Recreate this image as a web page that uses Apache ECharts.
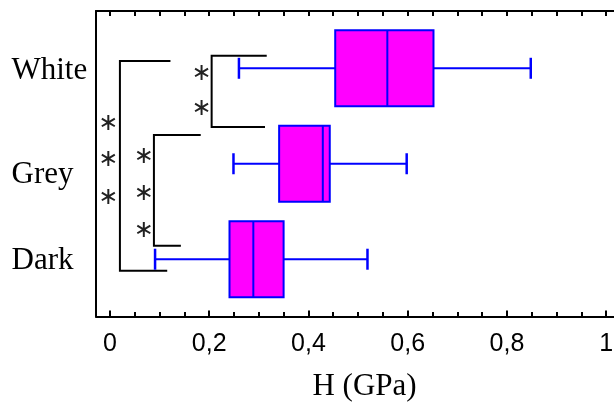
<!DOCTYPE html>
<html>
<head>
<meta charset="utf-8">
<script src="https://cdn.jsdelivr.net/npm/echarts@6/dist/echarts.min.js"></script>
<style>html,body{margin:0;padding:0;background:#fff}#c{width:614px;height:406px}</style>
</head>
<body>
<div id="c"></div>
<script>
// ---- data ----
const categories = ['Dark', 'Grey', 'White'];
const whiskerLow  = [0.091, 0.249, 0.260];
const q1          = [0.241, 0.341, 0.454];
const median      = [0.289, 0.429, 0.559];
const q3          = [0.350, 0.443, 0.652];
const whiskerHigh = [0.519, 0.598, 0.848];

const xLabelTicks = [0, 0.2, 0.4, 0.6, 0.8, 1];
const xMinorTicks = [0.05, 0.1, 0.15, 0.25, 0.3, 0.35, 0.45, 0.5, 0.55, 0.65, 0.7, 0.75, 0.85, 0.9, 0.95];
const xAllTicks = [0, 0.05, 0.1, 0.15, 0.2, 0.25, 0.3, 0.35, 0.4, 0.45, 0.5, 0.55, 0.6, 0.65, 0.7, 0.75, 0.8, 0.85, 0.9, 0.95, 1];

// significance brackets (data units): stem x, top y, bottom y, top arm end x, bottom arm end x
const bracketStemX   = [0.0202, 0.0887, 0.205];
const bracketTopY    = [3.076, 2.301, 3.131];
const bracketBottomY = [0.880, 1.141, 2.385];
const bracketTopEnd  = [0.122, 0.183, 0.316];
const bracketBotEnd  = [0.1155, 0.143, 0.3125];
// asterisks marking significance
const starX = [-0.0034, -0.0034, -0.0034, 0.0685, 0.0685, 0.0685, 0.1849, 0.1849];
const starY = [2.416, 2.039, 1.648, 2.074, 1.690, 1.299, 2.947, 2.581];

const xTitle = 'H (GPa)';

// ---- chart ----
const BOX_H = 0.795, CAP_H = 0.22;
const boxData = categories.map((c, i) => [i + 1, whiskerLow[i], q1[i], median[i], q3[i], whiskerHigh[i]]);
const bracketData = bracketStemX.map((x, i) => [x, bracketTopY[i], bracketBottomY[i], bracketTopEnd[i], bracketBotEnd[i]]);
const starData = starX.map((x, i) => [x, starY[i]]);

const chart = echarts.init(document.getElementById('c'), null, {renderer: 'canvas'});
const fmt = v => String(+v.toFixed(2)).replace('.', ',');
const xRange = {min: -0.028, max: 1.054};
const serif = '"Liberation Serif", "Times New Roman", serif';
// small vertical nudges of the category labels, as in the reference
const labelStyleKeys = ['d', 'g', 'w'];

chart.setOption({
  animation: false,
  backgroundColor: '#fff',
  grid: {left: 96, top: 11, right: -19, bottom: 89.5, containLabel: false, outerBoundsMode: 'none'},
  xAxis: [
    {
      type: 'value', position: 'bottom', ...xRange,
      axisLine: {show: true, onZero: false, lineStyle: {color: '#000', width: 2}},
      axisTick: {show: true, inside: true, length: 6, lineStyle: {color: '#000', width: 2}, customValues: xLabelTicks},
      axisLabel: {show: true, customValues: xLabelTicks, formatter: fmt, margin: 15,
        color: '#000', fontSize: 25, fontFamily: '"Liberation Sans", Arial, sans-serif'},
      splitLine: {show: false},
      name: xTitle, nameLocation: 'middle', nameGap: 55,
      nameTextStyle: {color: '#000', fontSize: 31, fontFamily: serif}
    },
    {
      type: 'value', position: 'bottom', ...xRange,
      axisLine: {show: false, onZero: false},
      axisTick: {show: true, inside: true, length: 4.5, lineStyle: {color: '#000', width: 2}, customValues: xMinorTicks},
      axisLabel: {show: false}, splitLine: {show: false}
    },
    {
      type: 'value', position: 'top', ...xRange,
      axisLine: {show: true, onZero: false, lineStyle: {color: '#000', width: 2}},
      axisTick: {show: true, inside: true, length: 5, lineStyle: {color: '#000', width: 2}, customValues: xAllTicks},
      axisLabel: {show: false}, splitLine: {show: false}
    }
  ],
  yAxis: {
    type: 'value', min: 0.4, max: 3.6, interval: 0.2, position: 'left',
    axisLine: {show: true, onZero: false, lineStyle: {color: '#000', width: 2}},
    axisTick: {show: false}, splitLine: {show: false},
    axisLabel: {
      show: true, align: 'left', margin: 84.5, color: '#000', fontSize: 31, fontFamily: serif,
      formatter: v => {
        const r = Math.round(v);
        return (Math.abs(v - r) < 1e-6 && categories[r - 1]) ? '{' + labelStyleKeys[r - 1] + '|' + categories[r - 1] + '}' : '';
      },
      rich: {
        d: {fontSize: 31, fontFamily: serif, color: '#000', padding: [3, 0, 0, 0]},
        g: {fontSize: 31, fontFamily: serif, color: '#000', padding: [22, 0, 0, 0]},
        w: {fontSize: 31, fontFamily: serif, color: '#000', padding: [6, 0, 0, 0]}
      }
    }
  },
  series: [
    {
      type: 'custom', xAxisIndex: 0, yAxisIndex: 0, clip: false,
      data: bracketData, encode: {x: [0, 3, 4], y: [1, 2]},
      renderItem: function (params, api) {
        const s = api.coord([api.value(0), api.value(1)]);
        const b = api.coord([api.value(0), api.value(2)]);
        const te = api.coord([api.value(3), api.value(1)]);
        const be = api.coord([api.value(4), api.value(2)]);
        return {
          type: 'polyline',
          shape: {points: [[te[0], s[1]], [s[0], s[1]], [b[0], b[1]], [be[0], b[1]]]},
          style: {stroke: '#000', lineWidth: 2, fill: null}
        };
      }
    },
    {
      type: 'custom', xAxisIndex: 0, yAxisIndex: 0, clip: false,
      data: starData, encode: {x: 0, y: 1},
      renderItem: function (params, api) {
        const p = api.coord([api.value(0), api.value(1)]);
        return {
          type: 'text', x: p[0], y: p[1],
          style: {text: '\u2217', fill: '#222', fontSize: 24, fontFamily: '"DejaVu Sans", sans-serif',
            align: 'center', verticalAlign: 'middle'}
        };
      }
    },
    {
      type: 'custom', xAxisIndex: 0, yAxisIndex: 0, clip: false,
      data: boxData, encode: {x: [1, 2, 3, 4, 5], y: 0},
      renderItem: function (params, api) {
        const y = api.value(0);
        const lo = api.coord([api.value(1), y]);
        const a = api.coord([api.value(2), y]);
        const m = api.coord([api.value(3), y]);
        const b = api.coord([api.value(4), y]);
        const hi = api.coord([api.value(5), y]);
        const h = api.size([0, BOX_H])[1];
        const ch = api.size([0, CAP_H])[1];
        const cy = lo[1];
        const blue = '#0000ff';
        return {
          type: 'group',
          children: [
            {type: 'line', shape: {x1: lo[0], y1: cy, x2: a[0], y2: cy}, style: {stroke: blue, lineWidth: 2}},
            {type: 'line', shape: {x1: b[0], y1: cy, x2: hi[0], y2: cy}, style: {stroke: blue, lineWidth: 2}},
            {type: 'line', shape: {x1: lo[0], y1: cy - ch / 2, x2: lo[0], y2: cy + ch / 2}, style: {stroke: blue, lineWidth: 2.5}},
            {type: 'line', shape: {x1: hi[0], y1: cy - ch / 2, x2: hi[0], y2: cy + ch / 2}, style: {stroke: blue, lineWidth: 2.5}},
            {type: 'rect', shape: {x: a[0], y: cy - h / 2, width: b[0] - a[0], height: h}, style: {fill: '#ff00ff', stroke: blue, lineWidth: 2}},
            {type: 'line', shape: {x1: m[0], y1: cy - h / 2, x2: m[0], y2: cy + h / 2}, style: {stroke: blue, lineWidth: 2}}
          ]
        };
      }
    }
  ]
});
</script>
</body>
</html>
